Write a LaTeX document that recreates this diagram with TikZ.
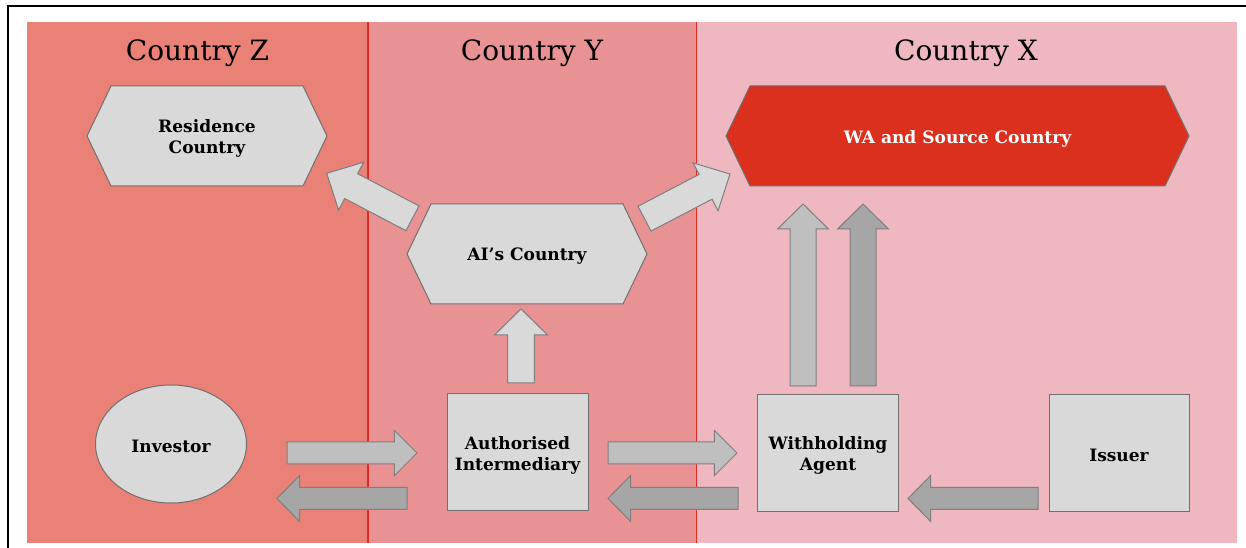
\documentclass[tikz,border=0pt]{standalone}
\usepackage{fontspec}
\setmainfont{DejaVu Serif}
\usetikzlibrary{calc,shapes.geometric}

\pgfdeclarelayer{panels}
\pgfdeclarelayer{shapes}
\pgfsetlayers{panels,shapes,main}

\definecolor{zonez}{HTML}{E98177}
\definecolor{zoney}{HTML}{E89294}
\definecolor{zonex}{HTML}{EFB8C0}
\definecolor{boxgrey}{HTML}{D9D9D9}
\definecolor{edgegrey}{HTML}{707070}
\definecolor{warred}{HTML}{DC301F}
\definecolor{arrowlight}{HTML}{D9D9D9}
\definecolor{arrowmid}{HTML}{BFBFBF}
\definecolor{arrowdark}{HTML}{A6A6A6}
\definecolor{divider}{HTML}{E02A22}

\tikzset{
  zonetitle/.style={font=\fontsize{21}{25}\selectfont, anchor=base, inner sep=0pt},
  lbl/.style={font=\fontsize{12.8}{15.75}\selectfont\bfseries, align=center,
    inner sep=0pt, outer sep=0pt, yshift=-1.9pt},
  shapebase/.style={inner sep=0pt, outer sep=0pt},
  hexnode/.style={shapebase, minimum width=180pt, minimum height=75pt},
  hexfill/.style={fill=boxgrey, draw=edgegrey, line width=0.75pt},
  boxnode/.style={shapebase, fill=boxgrey, draw=edgegrey, line width=0.75pt},
  blockarrow/.style={draw=edgegrey!90, line width=0.75pt, line join=miter},
  lightarrow/.style={blockarrow, fill=arrowlight},
  midarrow/.style={blockarrow, fill=arrowmid},
  darkarrow/.style={blockarrow, fill=arrowdark},
}

% hexagon outline around a node: pointed left and right ends
\newcommand\hexoutline[2]{%
  \draw[#2] (#1.west) -- ([xshift=18pt]#1.north west) -- ([xshift=-18pt]#1.north east)
    -- (#1.east) -- ([xshift=-18pt]#1.south east) -- ([xshift=18pt]#1.south west) -- cycle;}

% block arrow: #1 style, #2 tail, #3 tip, #4 half shaft, #5 half head, #6 head length
\newcommand\fatarrow[6]{%
  \path (#2) coordinate (fa-tail) (#3) coordinate (fa-tip);
  \path ($(fa-tip)!#6!(fa-tail)$) coordinate (fa-base);
  \draw[#1] ($(fa-tail)!#4!90:(fa-tip)$) -- ($(fa-base)!#4!90:(fa-tip)$)
    -- ($(fa-base)!#5!90:(fa-tip)$) -- (fa-tip)
    -- ($(fa-base)!#5!-90:(fa-tip)$) -- ($(fa-base)!#4!-90:(fa-tip)$)
    -- ($(fa-tail)!#4!-90:(fa-tip)$) -- cycle;}

\begin{document}
\begin{tikzpicture}[x=0.75pt,y=-0.75pt]
\useasboundingbox (0,0) rectangle (1246,548);

% country bands and frame
\begin{pgfonlayer}{panels}
  \fill[white] (0,0) rectangle (1246,548);
  \fill[zonez] (27,22) rectangle (368,543);
  \fill[zoney] (368,22) rectangle (696,543);
  \fill[zonex] (696,22) rectangle (1237,543);
  \draw[divider, line width=1.2pt] (368,22) -- (368,543);
  \draw[divider, line width=0.75pt] (696,22) -- (696,543);
  \draw[line width=1.5pt] (1246,6.5) -- (8,6.5) -- (8,548);
\end{pgfonlayer}

% band titles
\node[zonetitle] (tz) at (197.5,61) {Country Z};
\node[zonetitle] (ty) at (532,61) {Country Y};
\node[zonetitle] (tx) at (966,61) {Country X};

% countries
\node[hexnode, label={[lbl]center:{Residence\\Country}}] (res) at (207,136) {};
\node[hexnode, label={[lbl]center:{AI’s Country}}] (aic) at (527,254) {};
\node[hexnode, minimum width=347.25pt,
      label={[lbl, text=white]center:{WA and Source Country}}] (wa) at (957.5,136) {};
\begin{pgfonlayer}{shapes}
  \hexoutline{res}{hexfill}
  \hexoutline{aic}{hexfill}
  \hexoutline{wa}{hexfill, fill=warred}
\end{pgfonlayer}

% parties
\node[boxnode, ellipse, minimum width=113.25pt, minimum height=88.5pt,
      label={[lbl]center:{Investor}}] (inv) at (171,444) {};
\node[boxnode, minimum width=105.75pt, minimum height=87.75pt,
      label={[lbl]center:{Authorised\\Intermediary}}] (aibox) at (517.5,452.5) {};
\node[boxnode, minimum width=106pt, minimum height=87.75pt,
      label={[lbl]center:{Withholding\\Agent}}] (agent) at (828,453) {};
\node[boxnode, minimum width=105pt, minimum height=87.75pt,
      label={[lbl]center:{Issuer}}] (iss) at (1119,453) {};

% arrow end points
\coordinate (invout) at (287,453);   \coordinate (aiin) at (417,453);
\coordinate (aiout) at (608,453);    \coordinate (agin) at (737,453);
\coordinate (aiback) at (407,498.5); \coordinate (invin) at (277,498.5);
\coordinate (agback) at (738,498.5); \coordinate (airet) at (608,498.5);
\coordinate (issout) at (1038,498.5);\coordinate (agret) at (908,498.5);
\coordinate (aiup) at (521,383);     \coordinate (aictop) at (521,309);
\coordinate (agup1) at (803,386);    \coordinate (wain1) at (803,204);
\coordinate (agup2) at (863,386);    \coordinate (wain2) at (863,204);
\coordinate (aicl) at (412.5,218.3); \coordinate (resin) at (326.7,173.3);
\coordinate (aicr) at (644.5,218.7); \coordinate (wain3) at (730,174);

% flows
\fatarrow{midarrow}{invout}{aiin}{8.25pt}{16.9pt}{16.9pt}
\fatarrow{midarrow}{aiout}{agin}{8.25pt}{16.9pt}{16.9pt}
\fatarrow{darkarrow}{aiback}{invin}{8.25pt}{17.25pt}{17pt}
\fatarrow{darkarrow}{agback}{airet}{8.25pt}{17.25pt}{17pt}
\fatarrow{darkarrow}{issout}{agret}{8.25pt}{17.25pt}{17pt}
\fatarrow{lightarrow}{aiup}{aictop}{10pt}{19.9pt}{19.5pt}
\fatarrow{midarrow}{agup1}{wain1}{9.75pt}{19.1pt}{18.75pt}
\fatarrow{darkarrow}{agup2}{wain2}{9.75pt}{19.1pt}{18.75pt}
\fatarrow{lightarrow}{aicl}{resin}{10.5pt}{20.25pt}{20.7pt}
\fatarrow{lightarrow}{aicr}{wain3}{10.5pt}{20.25pt}{20.7pt}
\end{tikzpicture}
\end{document}
